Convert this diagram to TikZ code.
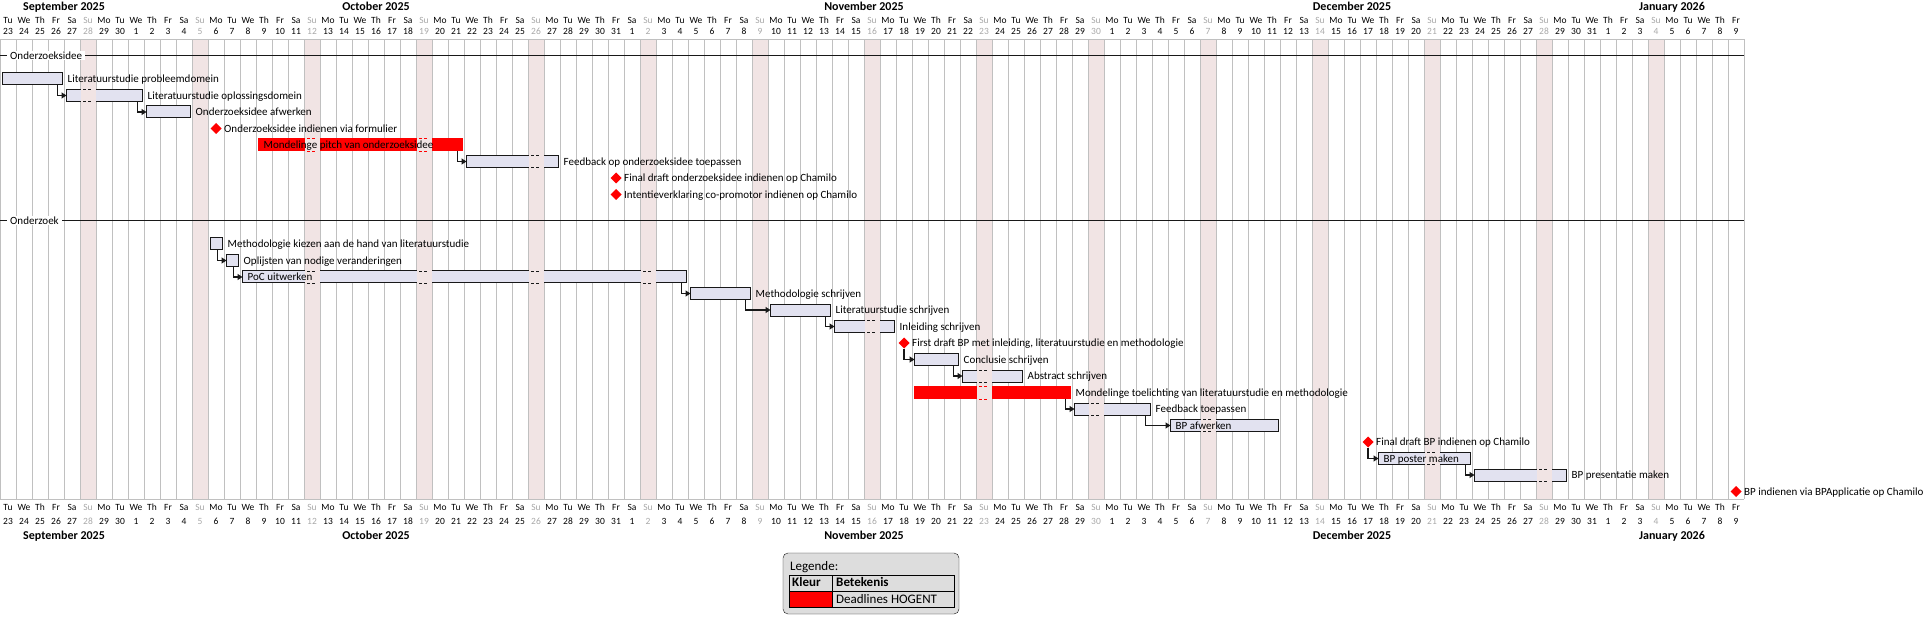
\documentclass[tikz,border=0pt]{standalone}
\usepackage{fontspec}
\setmainfont{Carlito}
\usetikzlibrary{shapes.geometric,arrows.meta}

\definecolor{sunbg}{HTML}{F1E4E4}
\definecolor{sungray}{HTML}{A8A8A8}
\definecolor{barfill}{HTML}{E2E2F0}
\definecolor{barline}{HTML}{181818}
\definecolor{gridgray}{HTML}{C0C0C0}
\definecolor{legendgray}{HTML}{DDDDDD}

\tikzset{
  bar/.style={draw=barline,fill=barfill,line width=1pt,inner sep=0pt,outer sep=0pt,
    minimum height=12pt,anchor=west},
  deadline/.style={bar,draw=red,fill=red},
  mstone/.style={diamond,fill=red,inner sep=0pt,outer sep=0pt,minimum size=11pt},
  lbl/.style={anchor=base west,inner sep=0pt,font=\fontsize{11}{13}\selectfont},
  hdr/.style={anchor=base,inner sep=0pt,font=\fontsize{9.5}{11}\selectfont},
  mon/.style={anchor=base,inner sep=0pt,font=\fontsize{12}{14}\selectfont\bfseries},
  link/.style={barline,line width=1.2pt,-{Triangle[length=5pt,width=6pt]}},
  sep/.style={fill=white,inner xsep=3pt,inner ysep=1pt,anchor=west,font=\fontsize{11}{13}\selectfont},
}

\begin{document}
\begin{tikzpicture}[x=1pt,y=-1pt]
  \useasboundingbox (0,0) rectangle (1932,628);
  \foreach \d in {5,12,...,103}
    \fill[sunbg] (16*\d,39.5) rectangle (16*\d+16,499);
  \foreach \i in {0,...,109}
    \draw[gridgray] (16*\i,39.5) -- (16*\i,499);
  \draw[gridgray] (0,39.5) -- (1744,39.5) (0,499) -- (1744,499);

  \foreach \off/\first/\last in {-23/23/30,7/1/31,38/1/30,68/1/31,99/1/9}{
    \foreach \d in {\first,...,\last}{
      \pgfmathtruncatemacro\i{\d+\off}
      \pgfmathtruncatemacro\wkday{mod(\i+1,7)}
      \pgfmathparse{{"Mo","Tu","We","Th","Fr","Sa","Su"}[\wkday]}
      \let\dayname\pgfmathresult
      \ifnum\wkday=6 \def\daycol{sungray}\else\def\daycol{black}\fi
      \node[hdr,text=\daycol] (dnt\i) at (16*\i+8,23.3) {\dayname};
      \node[hdr,text=\daycol] (dmt\i) at (16*\i+8,35) {\d};
      \node[hdr,text=\daycol] (dnb\i) at (16*\i+8,510) {\dayname};
      \node[hdr,text=\daycol] (dmb\i) at (16*\i+8,524) {\d};
    }
  }
  \foreach \x/\m [count=\k] in {64/September 2025,376/October 2025,864/November 2025,
      1352/December 2025,1672/January 2026}{
    \node[mon] (mt\k) at (\x,10.5) {\m};
    \node[mon] (mb\k) at (\x,539) {\m};
  }

  % sections
  \draw[barline] (0,55.5) -- (1744,55.5) (0,220.5) -- (1744,220.5);
  \node[sep] (sec1) at (7,55.5) {Onderzoeksidee};
  \node[sep] (sec2) at (7,220.5) {Onderzoek};

  % Onderzoeksidee
  \node[bar,minimum width=60pt] (litprob) at (2.5,79) {};
  \node[bar,minimum width=76pt] (litopl) at (66.5,95.5) {};
  \node[bar,minimum width=44pt] (afwerk) at (146.5,112) {};
  \node[mstone] (idee) at (216,128.5) {};
  \node[deadline,minimum width=204pt] (pitch) at (258.5,145) {};
  \node[bar,minimum width=92pt] (feedb) at (466.5,161.5) {};
  \node[mstone] (finalidee) at (616,178) {};
  \node[mstone] (intentie) at (616,194.5) {};
  % Onderzoek
  \node[bar,minimum width=12pt] (methkies) at (210.5,244) {};
  \node[bar,minimum width=12pt] (oplijst) at (226.5,260.5) {};
  \node[bar,minimum width=444pt] (poc) at (242.5,277) {};
  \node[bar,minimum width=60pt] (methschr) at (690.5,293.5) {};
  \node[bar,minimum width=60pt] (litschr) at (770.5,310) {};
  \node[bar,minimum width=60pt] (inleid) at (834.5,326.5) {};
  \node[mstone] (firstdraft) at (904,343) {};
  \node[bar,minimum width=44pt] (concl) at (914.5,359.5) {};
  \node[bar,minimum width=60pt] (abstr) at (962.5,376) {};
  \node[deadline,minimum width=156pt] (toelicht) at (914.5,392.5) {};
  \node[bar,minimum width=76pt] (feedbt) at (1074.5,409) {};
  \node[bar,minimum width=108pt] (bpafw) at (1170.5,425.5) {};
  \node[mstone] (finalbp) at (1368,442) {};
  \node[bar,minimum width=92pt] (poster) at (1378.5,458.5) {};
  \node[bar,minimum width=92pt] (present) at (1474.5,475) {};
  \node[mstone] (indienen) at (1736,491.5) {};

  % sundays inside bars
  \foreach \d/\y in {5/95.5,33/161.5,19/277,26/277,33/277,40/277,54/326.5,
      61/376,68/409,75/425.5,89/458.5,96/475}{
    \fill[sunbg] (16*\d+0.5,\y-7) rectangle (16*\d+15.5,\y+7);
    \draw[barline,dash pattern=on 3pt off 2pt] (16*\d+3,\y-6) -- (16*\d+11,\y-6)
      (16*\d+3,\y+6) -- (16*\d+11,\y+6);
  }
  \foreach \d/\y in {19/145,26/145,61/392.5}{
    \fill[sunbg] (16*\d+0.5,\y-7.5) rectangle (16*\d+15.5,\y+7.5);
    \draw[red,dash pattern=on 3pt off 2pt] (16*\d+3,\y-6.5) -- (16*\d+11,\y-6.5)
      (16*\d+3,\y+6.5) -- (16*\d+11,\y+6.5);
  }

  \draw[link] ([xshift=-5pt]litprob.south east) |- (litopl.west);
  \draw[link] ([xshift=-5pt]litopl.south east) |- (afwerk.west);
  \draw[link] ([xshift=-5pt]pitch.south east) |- (feedb.west);
  \draw[link] ([xshift=-5pt]methkies.south east) |- (oplijst.west);
  \draw[link] ([xshift=-5pt]oplijst.south east) |- (poc.west);
  \draw[link] ([xshift=-5pt]poc.south east) |- (methschr.west);
  \draw[link] ([xshift=-5pt]methschr.south east) |- (litschr.west);
  \draw[link] ([xshift=-5pt]litschr.south east) |- (inleid.west);
  \draw[link] (firstdraft.south) |- (concl.west);
  \draw[link] ([xshift=-5pt]concl.south east) |- (abstr.west);
  \draw[link] ([xshift=-5pt]toelicht.south east) |- (feedbt.west);
  \draw[link] ([xshift=-5pt]feedbt.south east) |- (bpafw.west);
  \draw[link] (finalbp.south) |- (poster.west);
  \draw[link] ([xshift=-5pt]poster.south east) |- (present.west);

  \node[lbl] (litprobL) at ([xshift=5pt,yshift=-3.7pt]litprob.east) {Literatuurstudie probleemdomein};
  \node[lbl] (litoplL) at ([xshift=5pt,yshift=-3.7pt]litopl.east) {Literatuurstudie oplossingsdomein};
  \node[lbl] (afwerkL) at ([xshift=5pt,yshift=-3.7pt]afwerk.east) {Onderzoeksidee afwerken};
  \node[lbl] (ideeL) at ([xshift=8pt,yshift=-3.7pt]idee.center) {Onderzoeksidee indienen via formulier};
  \node[lbl] (pitchL) at ([xshift=5pt,yshift=-3.7pt]pitch.west) {Mondelinge pitch van onderzoeksidee};
  \node[lbl] (feedbL) at ([xshift=5pt,yshift=-3.7pt]feedb.east) {Feedback op onderzoeksidee toepassen};
  \node[lbl] (finalideeL) at ([xshift=8pt,yshift=-3.7pt]finalidee.center) {Final draft onderzoeksidee indienen op Chamilo};
  \node[lbl] (intentieL) at ([xshift=8pt,yshift=-3.7pt]intentie.center) {Intentieverklaring co-promotor indienen op Chamilo};
  \node[lbl] (methkiesL) at ([xshift=5pt,yshift=-3.7pt]methkies.east) {Methodologie kiezen aan de hand van literatuurstudie};
  \node[lbl] (oplijstL) at ([xshift=5pt,yshift=-3.7pt]oplijst.east) {Oplijsten van nodige veranderingen};
  \node[lbl] (pocL) at ([xshift=5pt,yshift=-3.7pt]poc.west) {PoC uitwerken};
  \node[lbl] (methschrL) at ([xshift=5pt,yshift=-3.7pt]methschr.east) {Methodologie schrijven};
  \node[lbl] (litschrL) at ([xshift=5pt,yshift=-3.7pt]litschr.east) {Literatuurstudie schrijven};
  \node[lbl] (inleidL) at ([xshift=5pt,yshift=-3.7pt]inleid.east) {Inleiding schrijven};
  \node[lbl] (firstdraftL) at ([xshift=8pt,yshift=-3.7pt]firstdraft.center) {First draft BP met inleiding, literatuurstudie en methodologie};
  \node[lbl] (conclL) at ([xshift=5pt,yshift=-3.7pt]concl.east) {Conclusie schrijven};
  \node[lbl] (abstrL) at ([xshift=5pt,yshift=-3.7pt]abstr.east) {Abstract schrijven};
  \node[lbl] (toelichtL) at ([xshift=5pt,yshift=-3.7pt]toelicht.east) {Mondelinge toelichting van literatuurstudie en methodologie};
  \node[lbl] (feedbtL) at ([xshift=5pt,yshift=-3.7pt]feedbt.east) {Feedback toepassen};
  \node[lbl] (bpafwL) at ([xshift=5pt,yshift=-3.7pt]bpafw.west) {BP afwerken};
  \node[lbl] (finalbpL) at ([xshift=8pt,yshift=-3.7pt]finalbp.center) {Final draft BP indienen op Chamilo};
  \node[lbl] (posterL) at ([xshift=5pt,yshift=-3.7pt]poster.west) {BP poster maken};
  \node[lbl] (presentL) at ([xshift=5pt,yshift=-3.7pt]present.east) {BP presentatie maken};
  \node[lbl] (indienenL) at ([xshift=8pt,yshift=-3.7pt]indienen.center) {BP indienen via BPApplicatie op Chamilo};

  % legend
  \draw[barline,fill=legendgray,rounded corners=5pt] (783,553) rectangle (959,614);
  \node[anchor=base west,inner sep=0pt,font=\fontsize{13}{15}\selectfont] (legtitle) at (790,570) {Legende:};
  \fill[red] (789,591) rectangle (832,607);
  \draw[black] (789,575) rectangle (954,607) (789,591) -- (954,591) (832,575) -- (832,607);
  \node[anchor=base west,inner sep=0pt,font=\fontsize{13}{15}\selectfont\bfseries] (kleur) at (792,586.5) {Kleur};
  \node[anchor=base west,inner sep=0pt,font=\fontsize{13}{15}\selectfont\bfseries] (betek) at (836,586.5) {Betekenis};
  \node[anchor=base west,inner sep=0pt,font=\fontsize{13}{15}\selectfont] (deadl) at (836,603.5) {Deadlines HOGENT};
\end{tikzpicture}
\end{document}
